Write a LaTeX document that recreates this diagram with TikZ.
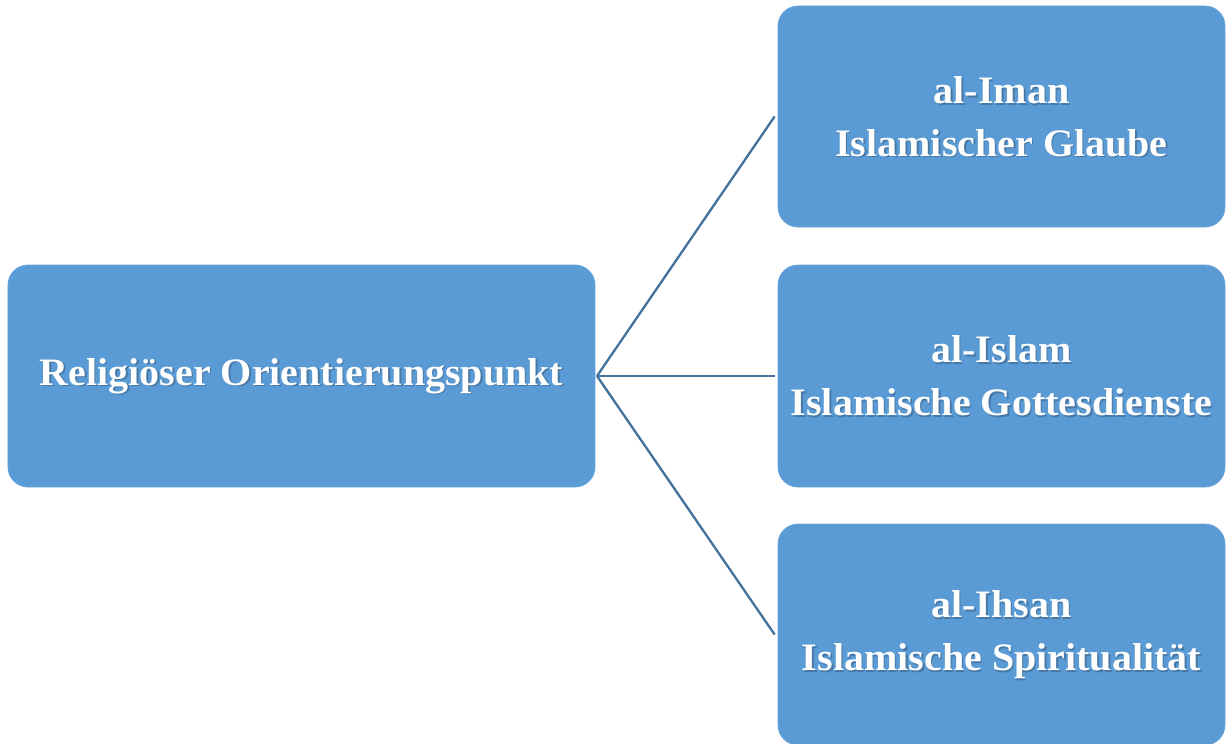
\documentclass[tikz,border=0pt]{standalone}
\usepackage{fontspec}
\setmainfont[FakeStretch=1.03]{Liberation Serif}
\definecolor{boxblue}{HTML}{5B9BD5}
\definecolor{boxedge}{HTML}{6AA5DA}
\definecolor{linkblue}{HTML}{41719C}
\tikzset{
  box/.style={draw=boxedge, line width=0.8bp, fill=boxblue, rounded corners=20bp, minimum width=#1, inner sep=0pt},
  lbl/.style={text=white, font=\bfseries\fontsize{39}{53}\selectfont, align=center, inner sep=0pt},
  lblshadow/.style={text=black, opacity=0.22, font=\bfseries\fontsize{39}{53}\selectfont, align=center, inner sep=0pt},
  link/.style={draw=linkblue, line width=2.3bp}
}
\begin{document}
\begin{tikzpicture}[x=1bp,y=-1bp]
\useasboundingbox (0,0) rectangle (1230,744);
\node[box=587bp, minimum height=222bp] (L) at (301.5,376) {};
\node[box=447bp, minimum height=221bp] (R1) at (1001.5,116.5) {};
\node[box=447bp, minimum height=222bp] (R2) at (1001.5,376) {};
\node[box=447bp, minimum height=221bp] (R3) at (1001.5,634.5) {};
\coordinate (hub) at (597,376);
\draw[link] (hub) -- ([xshift=-3bp]R1.west);
\draw[link] (hub) -- ([xshift=-3bp]R2.west);
\draw[link] (hub) -- ([xshift=-3bp]R3.west);
\node[lblshadow] at ([shift={(1.5,1.8)}]L.center) {Religiöser Orientierungspunkt};
\node[lbl] (tL) at (L.center) {Religiöser Orientierungspunkt};
\node[lblshadow] at ([shift={(1.5,1.8)}]R1.center) {al-Iman\\Islamischer Glaube};
\node[lbl] (t1) at (R1.center) {al-Iman\\Islamischer Glaube};
\node[lblshadow] at ([shift={(1.5,1.8)}]R2.center) {al-Islam\\Islamische Gottesdienste};
\node[lbl] (t2) at (R2.center) {al-Islam\\Islamische Gottesdienste};
\node[lblshadow] at ([shift={(1.5,1.8)}]R3.center) {al-Ihsan\\Islamische Spiritualität};
\node[lbl] (t3) at (R3.center) {al-Ihsan\\Islamische Spiritualität};
\end{tikzpicture}
\end{document}
